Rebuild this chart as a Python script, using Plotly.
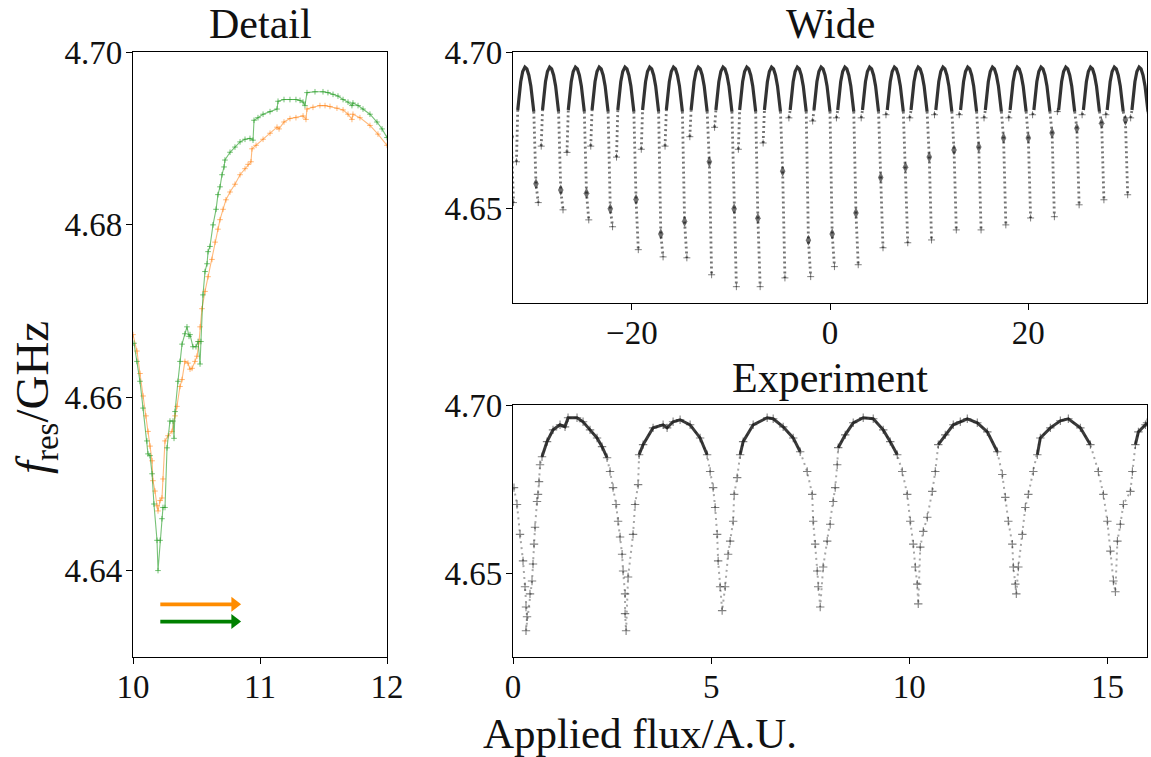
import plotly.graph_objects as go

# ---------------- Detail panel data (two simulated sweeps) ----------------
detail_orange_x = [10.000, 10.031, 10.055, 10.079, 10.102, 10.118, 10.134, 10.150, 10.157, 10.173,
                   10.189, 10.197, 10.213, 10.228, 10.236, 10.252, 10.276, 10.307, 10.331, 10.346,
                   10.370, 10.386, 10.409, 10.433, 10.449, 10.465, 10.488, 10.504, 10.520, 10.528,
                   10.543, 10.567, 10.591, 10.622, 10.646, 10.669, 10.685, 10.709, 10.732, 10.764,
                   10.803, 10.843, 10.882, 10.906, 10.929, 10.937, 10.969, 11.024, 11.079, 11.134,
                   11.150, 11.189, 11.236, 11.283, 11.339, 11.362, 11.370, 11.417, 11.472, 11.512,
                   11.551, 11.606, 11.654, 11.693, 11.724, 11.732, 11.787, 11.866, 11.929, 12.000]
detail_orange_y = [4.6673, 4.6654, 4.6628, 4.6602, 4.6579, 4.6561, 4.6544, 4.6527, 4.6504, 4.6492,
                   4.6475, 4.6469, 4.6481, 4.6484, 4.6506, 4.6550, 4.6556, 4.6561, 4.6579, 4.6590,
                   4.6613, 4.6621, 4.6642, 4.6640, 4.6633, 4.6634, 4.6642, 4.6648, 4.6665, 4.6682,
                   4.6703, 4.6723, 4.6740, 4.6760, 4.6780, 4.6795, 4.6806, 4.6818, 4.6829, 4.6838,
                   4.6847, 4.6858, 4.6865, 4.6870, 4.6873, 4.6888, 4.6892, 4.6899, 4.6906, 4.6913,
                   4.6911, 4.6919, 4.6923, 4.6924, 4.6926, 4.6922, 4.6934, 4.6936, 4.6938, 4.6938,
                   4.6937, 4.6935, 4.6933, 4.6928, 4.6922, 4.6928, 4.6924, 4.6915, 4.6905, 4.6892]

detail_green_x = [10.008, 10.031, 10.055, 10.079, 10.110, 10.118, 10.134, 10.150, 10.165, 10.189,
                  10.197, 10.213, 10.228, 10.236, 10.252, 10.268, 10.291, 10.315, 10.323, 10.331,
                  10.354, 10.370, 10.386, 10.409, 10.425, 10.441, 10.449, 10.472, 10.496, 10.512,
                  10.528, 10.535, 10.551, 10.567, 10.583, 10.591, 10.606, 10.630, 10.654, 10.669,
                  10.685, 10.701, 10.717, 10.724, 10.764, 10.803, 10.843, 10.882, 10.921, 10.945,
                  10.953, 10.984, 11.024, 11.079, 11.134, 11.142, 11.189, 11.236, 11.283, 11.315,
                  11.339, 11.354, 11.370, 11.433, 11.496, 11.535, 11.575, 11.614, 11.654, 11.693,
                  11.724, 11.732, 11.772, 11.811, 11.866, 11.921, 11.961, 12.000]
detail_green_y = [4.6663, 4.6642, 4.6619, 4.6588, 4.6550, 4.6535, 4.6533, 4.6512, 4.6477, 4.6435,
                  4.6400, 4.6435, 4.6460, 4.6473, 4.6473, 4.6542, 4.6573, 4.6573, 4.6553, 4.6584,
                  4.6619, 4.6642, 4.6662, 4.6674, 4.6682, 4.6671, 4.6673, 4.6659, 4.6659, 4.6665,
                  4.6639, 4.6665, 4.6719, 4.6746, 4.6755, 4.6769, 4.6775, 4.6800, 4.6818, 4.6835,
                  4.6844, 4.6858, 4.6867, 4.6875, 4.6884, 4.6890, 4.6896, 4.6899, 4.6900, 4.6898,
                  4.6921, 4.6924, 4.6928, 4.6931, 4.6934, 4.6943, 4.6945, 4.6945, 4.6945, 4.6944,
                  4.6942, 4.6938, 4.6953, 4.6954, 4.6954, 4.6953, 4.6951, 4.6949, 4.6945, 4.6942,
                  4.6938, 4.6941, 4.6938, 4.6934, 4.6928, 4.6919, 4.6911, 4.6901]

# sweep-direction arrows (start x, end x, level)
arrow_x_start = [10.215, 10.215]
arrow_x_end = [10.80, 10.80]
arrow_y = [4.6361, 4.6341]
arrow_colors = ["#ff8c00", "#008000"]

# ---------------- Wide panel data ----------------
wide_peak_x = [-33.3, -30.8, -28.3, -25.7, -23.3, -20.7, -18.2, -15.8, -13.3, -10.8, -8.4, -5.9, -3.3,
               -0.9, 1.5, 4.0, 6.5, 8.9, 11.4, 13.9, 16.4, 18.9, 21.3, 23.8, 26.3, 28.7, 31.2]
wide_left_y = [4.668, 4.665, 4.670, 4.668, 4.670, 4.6665, 4.669, 4.670, 4.673, 4.676, 4.669, 4.671,
               4.679, 4.678, 4.679, 4.679, 4.680, 4.679, 4.680, 4.680, 4.679, 4.679,
               4.680, 4.681, 4.680, 4.680, 4.679]
wide_cluster_y = [4.673, 4.658, 4.656, 4.655, 4.650, 4.653, 4.642, 4.646, 4.665, 4.650, 4.647,
                  4.662, 4.640, 4.642, 4.6487, 4.660, 4.6633, 4.6665, 4.6688, 4.6697, 4.6726,
                  4.6726, 4.6742, 4.6757, 4.6773, 4.6783, 4.675]
wide_min_y = [4.652, 4.652, 4.6497, 4.6465, 4.6443, 4.637, 4.6347, 4.6344, 4.629, 4.6252, 4.6252,
              4.628, 4.6284, 4.6316, 4.6322, 4.6376, 4.6392, 4.6401, 4.6433, 4.6433, 4.6449,
              4.6471, 4.6475, 4.6513, 4.6529, 4.6545, 4.655]
# common arch cap (offset from peak, frequency)
wide_cap_dx = [-0.72, -0.58, -0.42, -0.22, 0.0, 0.2, 0.4, 0.6, 0.76, 0.9]
wide_cap_y = [4.6815, 4.6865, 4.6905, 4.6938, 4.6952, 4.6946, 4.6926, 4.6892, 4.6855, 4.681]
wide_leg_dx = [-0.85, 1.12, 1.35]   # left-leg foot, right-leg cluster, right-leg foot

# ---------------- Experiment panel data ----------------
exp_x = [0.025, 0.101, 0.177, 0.253, 0.303, 0.328, 0.354, 0.328,
         0.429, 0.480, 0.505, 0.530, 0.556, 0.606, 0.631, 0.657, 0.682, 0.732, 0.859, 1.010,
         1.187, 1.313, 1.389, 1.616, 1.768, 1.944, 2.121, 2.247, 2.374, 2.449, 2.525, 2.601,
         2.652, 2.702, 2.753, 2.778, 2.828, 2.828, 2.854,
         2.904, 3.030, 3.081, 3.157, 3.182, 3.283, 3.535, 3.788, 3.889, 4.040, 4.217, 4.470,
         4.722, 4.899, 4.975, 5.051, 5.101, 5.152, 5.177, 5.227, 5.278,
         5.354, 5.429, 5.480, 5.556, 5.581, 5.657, 5.732, 5.808, 6.061, 6.414, 6.566, 6.818,
         7.071, 7.247, 7.424, 7.551, 7.576, 7.626, 7.677, 7.702, 7.753,
         7.828, 7.929, 8.005, 8.081, 8.131, 8.182, 8.207, 8.384, 8.586, 8.838, 9.091, 9.343,
         9.520, 9.697, 9.823, 9.949, 10.025, 10.101, 10.152, 10.202, 10.227,
         10.278, 10.354, 10.455, 10.581, 10.657, 10.732, 10.909, 11.111, 11.288, 11.465, 11.717,
         11.970, 12.222, 12.348, 12.424, 12.500, 12.601, 12.626, 12.677, 12.702,
         12.753, 12.854, 12.929, 13.005, 13.131, 13.232, 13.308, 13.561, 13.813, 14.015, 14.318,
         14.571, 14.773, 14.899, 15.000, 15.076, 15.152, 15.202,
         15.253, 15.328, 15.404, 15.581, 15.631, 15.707, 15.783, 15.960, 16.0]
exp_y = [4.6754, 4.6704, 4.6615, 4.6536, 4.6459, 4.6399, 4.6370, 4.6328,
         4.6438, 4.6476, 4.6527, 4.6586, 4.6636, 4.6713, 4.6734, 4.6772, 4.6822, 4.6846, 4.6891, 4.6926,
         4.6941, 4.6935, 4.6962, 4.6962, 4.6950, 4.6926, 4.6902, 4.6876, 4.6843, 4.6802, 4.6754, 4.6704,
         4.6654, 4.6607, 4.6556, 4.6506, 4.6438, 4.6379, 4.6328,
         4.6488, 4.6615, 4.6704, 4.6763, 4.6852, 4.6882, 4.6932, 4.6941, 4.6932, 4.6950, 4.6956, 4.6941,
         4.6902, 4.6852, 4.6802, 4.6754, 4.6695, 4.6615, 4.6536, 4.6459, 4.6388,
         4.6459, 4.6556, 4.6595, 4.6654, 4.6734, 4.6784, 4.6852, 4.6891, 4.6941, 4.6962, 4.6959, 4.6935,
         4.6902, 4.6861, 4.6802, 4.6734, 4.6654, 4.6586, 4.6506, 4.6459, 4.6399,
         4.6518, 4.6595, 4.6645, 4.6713, 4.6754, 4.6822, 4.6873, 4.6911, 4.6947, 4.6962, 4.6959, 4.6926,
         4.6891, 4.6852, 4.6802, 4.6734, 4.6654, 4.6586, 4.6518, 4.6467, 4.6408,
         4.6577, 4.6624, 4.6666, 4.6743, 4.6802, 4.6882, 4.6911, 4.6941, 4.6950, 4.6959, 4.6947,
         4.6920, 4.6861, 4.6793, 4.6725, 4.6654, 4.6586, 4.6518, 4.6467, 4.6438,
         4.6518, 4.6615, 4.6695, 4.6734, 4.6802, 4.6852, 4.6902, 4.6932, 4.6953, 4.6959, 4.6932,
         4.6882, 4.6802, 4.6734, 4.6654, 4.6565, 4.6476, 4.6444,
         4.6595, 4.6645, 4.6704, 4.6743, 4.6802, 4.6882, 4.6920, 4.6941, 4.6947]

FONT = "Liberation Serif"
CAP_LEVEL = 4.684


def cap_runs(xs, ys, thr):
    """keep only points above thr, breaking the line between runs"""
    ox, oy = [], []
    for x, y in zip(xs, ys):
        if y >= thr:
            ox.append(x)
            oy.append(y)
        elif ox and ox[-1] is not None:
            ox.append(None)
            oy.append(None)
    return ox, oy


fig = go.Figure()

# ---- Detail traces ----
fig.add_trace(go.Scatter(x=detail_orange_x, y=detail_orange_y, mode="lines+markers",
                         line=dict(color="rgba(255,127,14,0.55)", width=1.1),
                         marker=dict(symbol="cross-thin", size=4,
                                     line=dict(color="rgba(255,127,14,0.55)", width=1)),
                         xaxis="x", yaxis="y", showlegend=False))
fig.add_trace(go.Scatter(x=detail_green_x, y=detail_green_y, mode="lines+markers",
                         line=dict(color="rgba(44,160,44,0.65)", width=1.1),
                         marker=dict(symbol="cross-thin", size=4,
                                     line=dict(color="rgba(44,160,44,0.65)", width=1)),
                         xaxis="x", yaxis="y", showlegend=False))
for xs, xe, ya, col in zip(arrow_x_start, arrow_x_end, arrow_y, arrow_colors):
    fig.add_trace(go.Scatter(x=[xs, xe], y=[ya, ya], mode="lines",
                             line=dict(color=col, width=3.8),
                             xaxis="x", yaxis="y", showlegend=False, hoverinfo="skip"))
    fig.add_trace(go.Scatter(x=[xe], y=[ya], mode="markers",
                             marker=dict(symbol="triangle-right", size=13, color=col,
                                         line=dict(width=0)),
                             xaxis="x", yaxis="y", showlegend=False, hoverinfo="skip"))

# ---- Wide traces ----
cap_x, cap_y, leg_x, leg_y, clu_x, clu_y, foot_x, foot_y = [], [], [], [], [], [], [], []
for p, ly, cy, my in zip(wide_peak_x, wide_left_y, wide_cluster_y, wide_min_y):
    cx = [p + d for d in wide_cap_dx]
    cap_x += cx + [None]
    cap_y += wide_cap_y + [None]
    leg_x += [p + wide_leg_dx[0], cx[0], None, cx[-1], p + wide_leg_dx[1], p + wide_leg_dx[2], None]
    leg_y += [ly, wide_cap_y[0], None, wide_cap_y[-1], cy, my, None]
    clu_x.append(p + wide_leg_dx[1])
    clu_y.append(cy)
    foot_x += [p + wide_leg_dx[0], p + wide_leg_dx[2]]
    foot_y += [ly, my]

fig.add_trace(go.Scatter(x=leg_x, y=leg_y, mode="lines",
                         line=dict(color="rgba(0,0,0,0.55)", width=2.8, dash="2px,3px"),
                         xaxis="x2", yaxis="y2", showlegend=False))
fig.add_trace(go.Scatter(x=foot_x, y=foot_y, mode="markers",
                         marker=dict(symbol="cross-thin", size=5,
                                     line=dict(color="rgba(0,0,0,0.5)", width=1)),
                         xaxis="x2", yaxis="y2", showlegend=False))
fig.add_trace(go.Scatter(x=clu_x, y=clu_y, mode="markers",
                         marker=dict(symbol="diamond-tall", size=8, color="rgba(0,0,0,0.55)",
                                     line=dict(width=0)),
                         xaxis="x2", yaxis="y2", showlegend=False))
fig.add_trace(go.Scatter(x=cap_x, y=cap_y, mode="lines",
                         line=dict(color="rgba(15,15,15,0.85)", width=3.2),
                         xaxis="x2", yaxis="y2", showlegend=False))

# ---- Experiment traces ----
fig.add_trace(go.Scatter(x=exp_x, y=exp_y, mode="lines+markers",
                         line=dict(color="rgba(0,0,0,0.35)", width=2, dash="2px,4px"),
                         marker=dict(symbol="cross-thin", size=6,
                                     line=dict(color="rgba(0,0,0,0.5)", width=1.1)),
                         xaxis="x3", yaxis="y3", showlegend=False))
ecx, ecy = cap_runs(exp_x, exp_y, CAP_LEVEL)
fig.add_trace(go.Scatter(x=ecx, y=ecy, mode="lines",
                         line=dict(color="rgba(25,25,25,0.85)", width=3.0),
                         xaxis="x3", yaxis="y3", showlegend=False))

# ---- axes ----
axis_common = dict(showline=True, mirror=True, linecolor="black", linewidth=1.3,
                   ticks="outside", ticklen=6, tickwidth=1.3, tickcolor="black",
                   showgrid=False, zeroline=False, automargin=False,
                   tickfont=dict(family=FONT, size=33, color="#111"))
xstand = dict(ticklabelstandoff=-6)
ystand = dict(ticklabelstandoff=-3)

px0, px1 = 133 / 1151, 387 / 1151
wx0, wx1 = 513 / 1151, 1147 / 1151
ybot, ytop = 100 / 757, 705 / 757
wyb = 454 / 757
eyt = 352 / 757

fig.update_layout(
    width=1151, height=757,
    margin=dict(l=0, r=0, t=0, b=0, pad=0),
    paper_bgcolor="white", plot_bgcolor="white",
    xaxis=dict(domain=[px0, px1], range=[10, 12], tickvals=[10, 11, 12], anchor="y",
               **axis_common, **xstand),
    yaxis=dict(domain=[ybot, ytop], range=[4.63, 4.70], tickvals=[4.64, 4.66, 4.68, 4.70],
               tickformat=".2f", anchor="x", **axis_common, **ystand),
    xaxis2=dict(domain=[wx0, wx1], range=[-32, 32], tickvals=[-20, 0, 20], anchor="y2",
                **axis_common, **xstand),
    yaxis2=dict(domain=[wyb, ytop], range=[4.62, 4.70], tickvals=[4.65, 4.70], tickformat=".2f",
                anchor="x2", **axis_common, **ystand),
    xaxis3=dict(domain=[wx0, wx1], range=[0, 16], tickvals=[0, 5, 10, 15], anchor="y3",
                **axis_common, **xstand),
    yaxis3=dict(domain=[ybot, eyt], range=[4.625, 4.70], tickvals=[4.65, 4.70], tickformat=".2f",
                anchor="x3", **axis_common, **ystand),
)

title_font = dict(family=FONT, size=42, color="#111")
annotations = [
    dict(text="Detail", x=(px0 + px1) / 2, y=(757 - 24) / 757, xref="paper", yref="paper",
         showarrow=False, font=title_font, xanchor="center", yanchor="middle"),
    dict(text="Wide", x=(wx0 + wx1) / 2, y=(757 - 24) / 757, xref="paper", yref="paper",
         showarrow=False, font=title_font, xanchor="center", yanchor="middle"),
    dict(text="Experiment", x=(wx0 + wx1) / 2, y=(757 - 378) / 757, xref="paper", yref="paper",
         showarrow=False, font=title_font, xanchor="center", yanchor="middle"),
    dict(text="Applied flux/A.U.", x=640 / 1151, y=(757 - 733) / 757, xref="paper", yref="paper",
         showarrow=False, font=dict(family=FONT, size=43, color="#111"),
         xanchor="center", yanchor="middle"),
    dict(text="<i>f</i><sub>res</sub>/GHz", x=36 / 1151, y=(757 - 398) / 757, xref="paper",
         yref="paper", showarrow=False, textangle=-90,
         font=dict(family=FONT, size=47, color="#111"), xanchor="center", yanchor="middle"),
]
fig.update_layout(annotations=annotations)

fig.write_html("out.html", post_script="document.body.style.margin='0';",
               config={"displayModeBar": False})
